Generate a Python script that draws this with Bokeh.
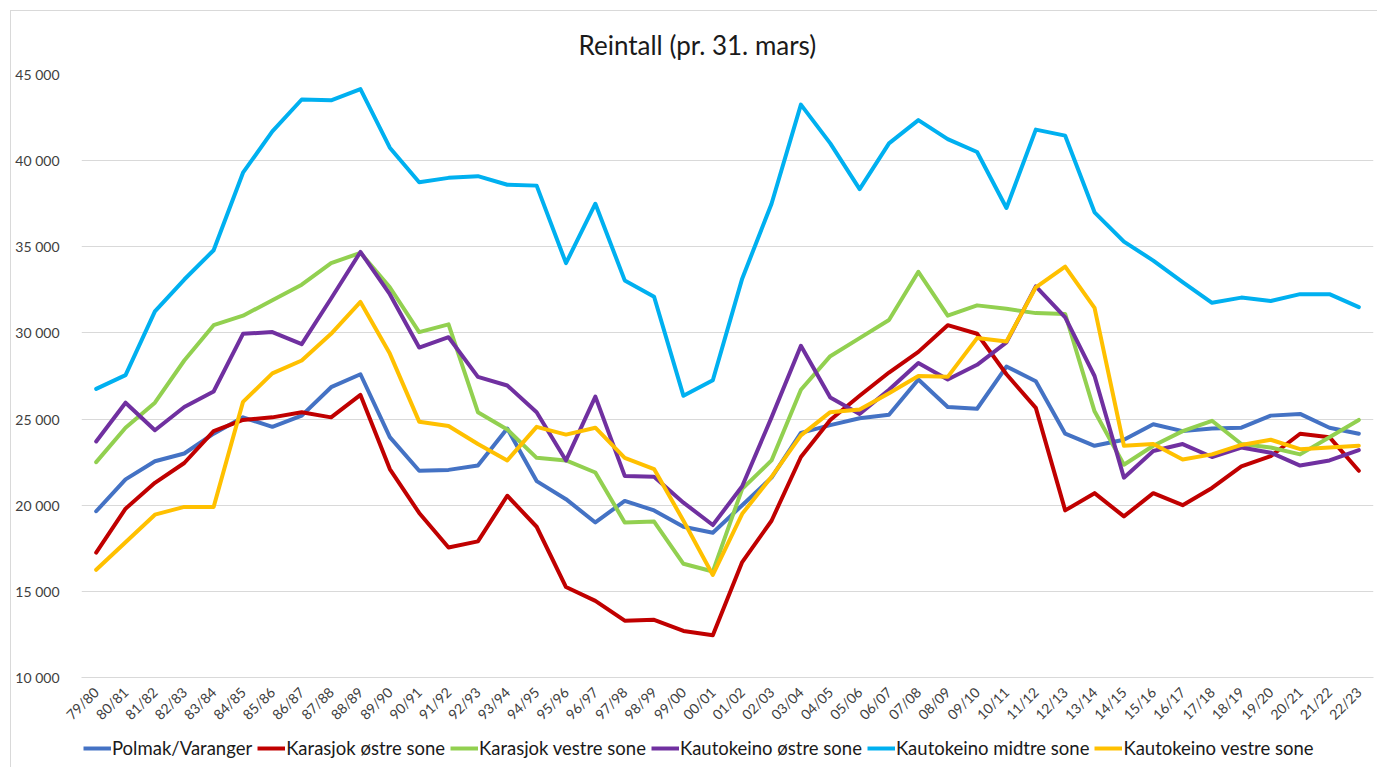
import math
from bokeh.plotting import figure
from bokeh.layouts import column
from bokeh.models import FactorRange, Range1d, FixedTicker, Legend, LegendItem
from bokeh.embed import file_html
from bokeh.resources import INLINE

seasons = ["79/80", "80/81", "81/82", "82/83", "83/84", "84/85", "85/86", "86/87", "87/88", "88/89",
           "89/90", "90/91", "91/92", "92/93", "93/94", "94/95", "95/96", "96/97", "97/98", "98/99",
           "99/00", "00/01", "01/02", "02/03", "03/04", "04/05", "05/06", "06/07", "07/08", "08/09",
           "09/10", "10/11", "11/12", "12/13", "13/14", "14/15", "15/16", "16/17", "17/18", "18/19",
           "19/20", "20/21", "21/22", "22/23"]

polmak_varanger = [19650, 21500, 22550, 23000, 24150, 25100, 24550, 25200, 26850, 27600,
                   23950, 22000, 22050, 22300, 24450, 21400, 20350, 19000, 20250, 19700,
                   18750, 18400, 20000, 21600, 24200, 24650, 25050, 25250, 27300, 25700,
                   25600, 28050, 27200, 24150, 23450, 23800, 24700, 24300, 24450, 24500,
                   25200, 25300, 24500, 24150]

karasjok_ostre = [17250, 19800, 21300, 22450, 24300, 24950, 25100, 25400, 25100, 26400,
                  22100, 19550, 17550, 17900, 20550, 18750, 15250, 14450, 13300, 13350,
                  12700, 12450, 16700, 19100, 22800, 24950, 26350, 27700, 28900, 30450,
                  29950, 27600, 25650, 19700, 20700, 19350, 20700, 20000, 21000, 22250,
                  22850, 24150, 23950, 22000]

karasjok_vestre = [22500, 24500, 25950, 28400, 30450, 31000, 31900, 32800, 34050, 34650,
                   32650, 30050, 30500, 25400, 24400, 22750, 22600, 21900, 19000, 19050,
                   16600, 16150, 20950, 22600, 26700, 28650, 29700, 30750, 33550, 31000,
                   31600, 31400, 31150, 31100, 25450, 22350, 23450, 24300, 24900, 23550,
                   23350, 22950, 23950, 24950]

kautokeino_ostre = [23700, 25950, 24350, 25700, 26600, 29950, 30050, 29350, 32000, 34700,
                    32250, 29150, 29750, 27450, 26950, 25400, 22600, 26300, 21700, 21650,
                    20150, 18850, 21100, 25100, 29250, 26250, 25300, 26700, 28250, 27300,
                    28150, 29450, 32700, 30900, 27500, 21600, 23150, 23550, 22800, 23350,
                    23050, 22300, 22600, 23200]

kautokeino_midtre = [26750, 27550, 31250, 33100, 34800, 39300, 41700, 43550, 43500, 44150,
                     40750, 38750, 39000, 39100, 38600, 38550, 34050, 37500, 33050, 32100,
                     26350, 27250, 33150, 37500, 43250, 41000, 38350, 41000, 42350, 41250,
                     40500, 37250, 41800, 41450, 37000, 35300, 34200, 32950, 31750, 32050,
                     31850, 32250, 32250, 31500]

kautokeino_vestre = [16250, 17850, 19450, 19900, 19900, 26000, 27650, 28400, 29950, 31800,
                     28800, 24850, 24600, 23550, 22600, 24550, 24100, 24500, 22750, 22100,
                     19100, 15950, 19500, 21650, 24050, 25400, 25550, 26500, 27500, 27450,
                     29700, 29500, 32650, 33850, 31450, 23450, 23550, 22650, 22950, 23500,
                     23800, 23250, 23350, 23450]

series_names = ["Polmak/Varanger", "Karasjok østre sone", "Karasjok vestre sone",
                "Kautokeino østre sone", "Kautokeino midtre sone", "Kautokeino vestre sone"]
series_values = [polmak_varanger, karasjok_ostre, karasjok_vestre,
                 kautokeino_ostre, kautokeino_midtre, kautokeino_vestre]
series_colors = ["#4472C4", "#C00000", "#92D050", "#7030A0", "#00B0F0", "#FFC000"]

y_ticks = [10000, 15000, 20000, 25000, 30000, 35000, 40000, 45000]
y_tick_labels = ["10 000", "15 000", "20 000", "25 000", "30 000", "35 000", "40 000", "45 000"]

FONT = "Lato"
W = 1366

p = figure(width=W, height=720, output_backend="svg", toolbar_location=None,
           x_range=FactorRange(*seasons, range_padding=0),
           y_range=Range1d(10000, 45000),
           min_border_left=70, min_border_right=4, min_border_top=63, min_border_bottom=54,
           title="Reintall (pr. 31. mars)")

p.title.align = "left"
p.title.offset = 497
p.title.text_font = FONT
p.title.text_font_size = "26px"
p.title.text_font_style = "normal"
p.title.text_color = "#1a1a1a"
p.title.standoff = 28

p.outline_line_color = None
p.background_fill_color = "white"
p.border_fill_color = "white"

p.xgrid.grid_line_color = None
p.ygrid.grid_line_color = "#d9d9d9"
p.ygrid.grid_line_width = 1

p.yaxis.ticker = FixedTicker(ticks=y_ticks)
p.yaxis.major_label_overrides = {t: l for t, l in zip(y_ticks, y_tick_labels)}
p.yaxis.axis_line_color = None
p.yaxis.major_tick_line_color = None
p.yaxis.minor_tick_line_color = None
p.yaxis.major_label_text_font = FONT
p.yaxis.major_label_text_font_size = "14px"
p.yaxis.major_label_text_color = "#404040"
p.yaxis.major_label_standoff = 16

p.xaxis.axis_line_color = "#d9d9d9"
p.xaxis.major_tick_line_color = None
p.xaxis.minor_tick_line_color = None
p.xaxis.major_label_orientation = math.pi / 4
p.xaxis.major_label_text_font = FONT
p.xaxis.major_label_text_font_size = "14px"
p.xaxis.major_label_text_color = "#404040"
p.xaxis.major_label_standoff = 6

for vals, col in zip(series_values, series_colors):
    p.line(x=seasons, y=vals, line_color=col, line_width=4, line_join="round", line_cap="round")

# legend strip below the chart (sample lines lie outside the visible range)
lf = figure(width=W, height=36, output_backend="svg", toolbar_location=None,
            x_range=Range1d(0, 1), y_range=Range1d(0, 1),
            min_border=0, min_border_left=0, min_border_right=0,
            min_border_top=0, min_border_bottom=0,
            x_axis_type=None, y_axis_type=None)
lf.outline_line_color = None
lf.xgrid.visible = False
lf.ygrid.visible = False
items = []
for name, col in zip(series_names, series_colors):
    r = lf.line(x=[-5, -4], y=[-5, -4], line_color=col, line_width=4)
    items.append(LegendItem(label=name, renderers=[r]))
legend = Legend(items=items, orientation="horizontal", location=(2, 8),
                label_text_font=FONT, label_text_font_size="18.5px", label_text_color="#1a1a1a",
                glyph_width=28, glyph_height=16, spacing=5, label_standoff=1,
                padding=2, margin=0, border_line_color=None, background_fill_alpha=0)
lf.add_layout(legend)

layout = column(p, lf, spacing=0,
                styles={"border-left": "1px solid #d9d9d9", "border-top": "1px solid #d9d9d9",
                        "margin-left": "10px", "margin-top": "10px"})

open("out.html", "w").write(file_html(layout, INLINE))
